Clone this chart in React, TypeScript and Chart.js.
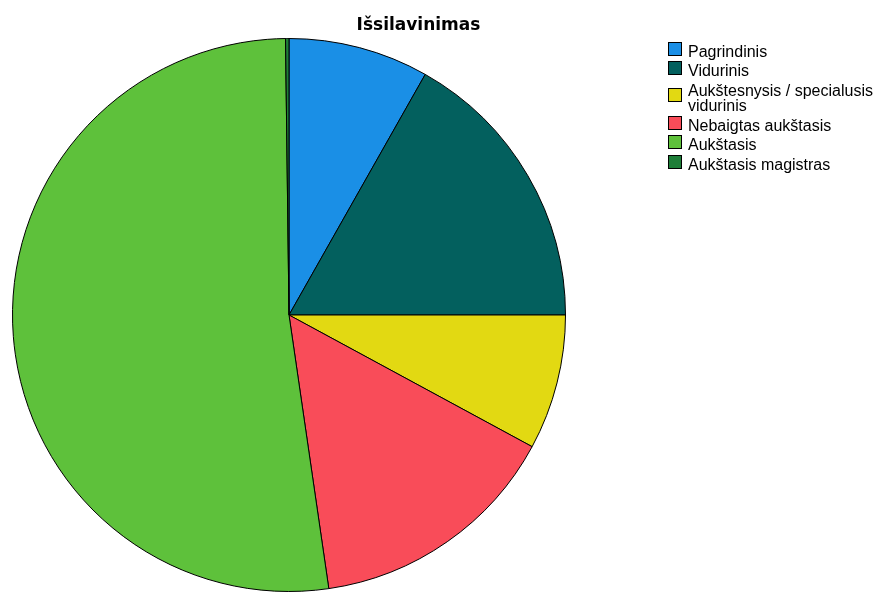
import React, { useEffect, useRef } from "react";
import { Chart, registerables } from "chart.js";

Chart.register(...registerables);

const TITLE = "Išsilavinimas";
const CATEGORIES: (string | string[])[] = [
  "Pagrindinis",
  "Vidurinis",
  ["Aukštesnysis / specialusis", "vidurinis"],
  "Nebaigtas aukštasis",
  "Aukštasis",
  "Aukštasis magistras",
];
const VALUES = [8.2, 16.8, 7.9, 14.8, 52.1, 0.2];
const COLORS = ["#1A8FE6", "#03605E", "#E2D912", "#F94C59", "#5EC13B", "#1E7E38"];

const legendPlugin = {
  id: "customLegendTitle",
  afterDraw(chart: any) {
    const ctx = chart.ctx as CanvasRenderingContext2D;
    ctx.save();
    // title
    ctx.font = "bold 17px 'DejaVu Sans', sans-serif";
    ctx.fillStyle = "#000";
    ctx.textAlign = "center";
    ctx.textBaseline = "alphabetic";
    ctx.fillText(TITLE, 418.5, 30);
    // legend
    ctx.font = "16px 'Liberation Sans', Arial, sans-serif";
    ctx.textAlign = "left";
    const boxX = 668;
    const textX = 688;
    const box = 14;
    const lineStep = 15.4;
    const itemStep = 19.5;
    let b = 56.7;
    CATEGORIES.forEach((lab, i) => {
      const lines = Array.isArray(lab) ? lab : [lab];
      const lastB = b + (lines.length - 1) * lineStep;
      const cy = (b + lastB) / 2 - 8;
      const top = Math.round(cy - box / 2);
      ctx.fillStyle = COLORS[i];
      ctx.fillRect(boxX, top, box, box);
      ctx.strokeStyle = "#000";
      ctx.lineWidth = 1;
      ctx.strokeRect(boxX + 0.5, top + 0.5, box - 1, box - 1);
      ctx.fillStyle = "#000";
      lines.forEach((ln, j) => ctx.fillText(ln, textX, b + j * lineStep));
      b = lastB + itemStep;
    });
    ctx.restore();
  },
};

export default function App() {
  const ref = useRef<HTMLCanvasElement | null>(null);
  useEffect(() => {
    if (!ref.current) return;
    const chart = new Chart(ref.current, {
      type: "pie",
      data: {
        labels: CATEGORIES.map((c) => (Array.isArray(c) ? c.join(" ") : c)),
        datasets: [
          {
            data: VALUES,
            backgroundColor: COLORS,
            borderColor: "#000",
            borderWidth: 1,
          },
        ],
      },
      options: {
        responsive: false,
        animation: false,
        layout: { padding: { left: 11, top: 38, right: 313, bottom: 0 } },
        plugins: {
          legend: { display: false },
          title: { display: false },
          tooltip: { enabled: false },
        },
      },
      plugins: [legendPlugin],
    });
    return () => chart.destroy();
  }, []);
  return (
    <div style={{ position: "fixed", left: 0, top: 0, width: 880, height: 592, background: "#fff" }}>
      <canvas ref={ref} width={880} height={592} style={{ width: 880, height: 592 }} />
    </div>
  );
}
